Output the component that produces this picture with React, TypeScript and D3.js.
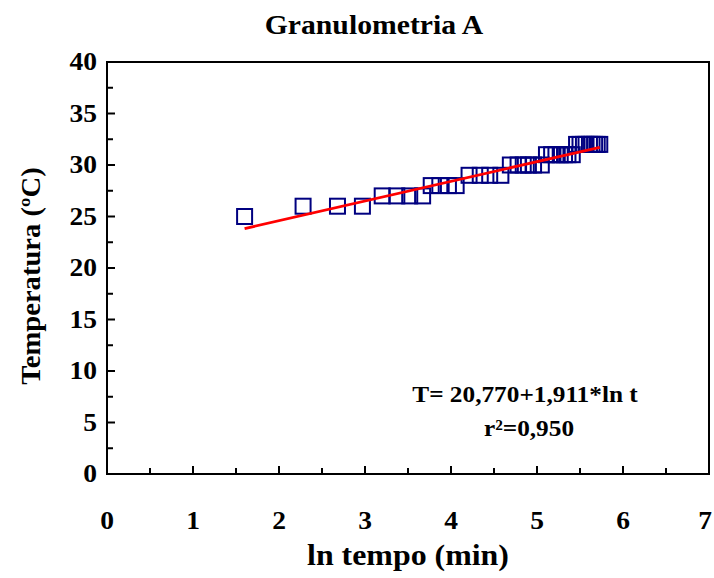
import React from "react";
import * as d3 from "d3";

const title = "Granulometria A";
const xLabel = "ln tempo (min)";
const yLabel = "Temperatura (ºC)";
const xTicks = [0, 1, 2, 3, 4, 5, 6, 7];
const yTicks = [0, 5, 10, 15, 20, 25, 30, 35, 40];

// ln tempo values
const lnTempo = [
  1.6,
  2.28, 2.68, 2.97,
  3.2, 3.37, 3.52, 3.67,
  3.77, 3.87, 3.97, 4.06,
  4.21, 4.34, 4.45, 4.58,
  4.69, 4.78, 4.84, 4.9, 4.96, 5.05,
  5.11, 5.17, 5.22, 5.27, 5.32, 5.36, 5.41,
  5.46, 5.5, 5.54, 5.57, 5.61, 5.64, 5.67, 5.7, 5.73,
];
const temperatura = [
  25,
  26, 26, 26,
  27, 27, 27, 27,
  28, 28, 28, 28,
  29, 29, 29, 29,
  30, 30, 30, 30, 30, 30,
  31, 31, 31, 31, 31, 31, 31,
  32, 32, 32, 32, 32, 32, 32, 32, 32,
];
const intercept = 20.77;
const slope = 1.911;
const eqLine1 = "T= 20,770+1,911*ln t";
const eqLine2 = "r²=0,950";

const ts: React.CSSProperties = { fontFamily: "'Liberation Serif', 'Times New Roman', Times, serif", fontWeight: 700 };

function T(props: { x: number; y: number; size: number; anchor: string; sx?: number; rot?: boolean; children: React.ReactNode }) {
  const sx = props.sx ?? 1.1;
  const tr = props.rot
    ? `translate(${props.x},${props.y}) rotate(-90) scale(${sx},1)`
    : `translate(${props.x},${props.y}) scale(${sx},1)`;
  return (
    <text transform={tr} fontSize={props.size} textAnchor={props.anchor} style={ts}>{props.children}</text>
  );
}

export default function App() {
  const W = 714, H = 578;
  const left = 107, right = 709, top = 62, bottom = 474;
  const x = d3.scaleLinear().domain([0, 7]).range([left, right]);
  const y = d3.scaleLinear().domain([0, 40]).range([bottom, top]);
  const xMinor = d3.range(0, 7, 0.5).filter((v) => v % 1 !== 0);
  const yMinor = d3.range(2.5, 40, 5);
  const x0 = d3.min(lnTempo) as number;
  const x1 = d3.max(lnTempo) as number;
  const line = d3.line<number>().x((v) => x(v)).y((v) => y(intercept + slope * v));
  const sq = 15;
  return (
    <svg width={W} height={H} style={{ position: "absolute", left: 0, top: 0 }}>
      <rect x={0} y={0} width={W} height={H} fill="white" />
      <T x={374} y={34} size={27} anchor="middle">{title}</T>
      <rect x={left} y={top} width={right - left} height={bottom - top} fill="none" stroke="black" strokeWidth={2} />
      {xTicks.map((t) => (
        <g key={"xt" + t}>
          <line x1={x(t)} x2={x(t)} y1={bottom} y2={bottom - 8} stroke="black" strokeWidth={2} />
          <T x={Math.min(x(t), W - 9)} y={529} size={25} anchor="middle">{t}</T>
        </g>
      ))}
      {xMinor.map((t) => (
        <line key={"xm" + t} x1={x(t)} x2={x(t)} y1={bottom} y2={bottom - 6} stroke="black" strokeWidth={2} />
      ))}
      {yTicks.map((t) => (
        <g key={"yt" + t}>
          <line x1={left} x2={left + 8} y1={y(t)} y2={y(t)} stroke="black" strokeWidth={2} />
          <T x={97} y={y(t) + 8} size={25} anchor="end">{t}</T>
        </g>
      ))}
      {yMinor.map((t) => (
        <line key={"ym" + t} x1={left} x2={left + 6} y1={y(t)} y2={y(t)} stroke="black" strokeWidth={2} />
      ))}
      <T x={408} y={565} size={29} anchor="middle">{xLabel}</T>
      <T x={40} y={276} size={27} sx={1.06} anchor="middle" rot>{yLabel}</T>
      {lnTempo.map((v, i) => (
        <rect key={"p" + i} x={x(v) - sq / 2} y={y(temperatura[i]) - sq / 2} width={sq} height={sq}
          fill="none" stroke="#000080" strokeWidth={2} />
      ))}
      <path d={line([x0, x1]) || ""} fill="none" stroke="#ff0000" strokeWidth={2.8} />
      <T x={525} y={402} size={23} anchor="middle">{eqLine1}</T>
      <T x={529} y={436} size={23} anchor="middle">{eqLine2}</T>
    </svg>
  );
}
